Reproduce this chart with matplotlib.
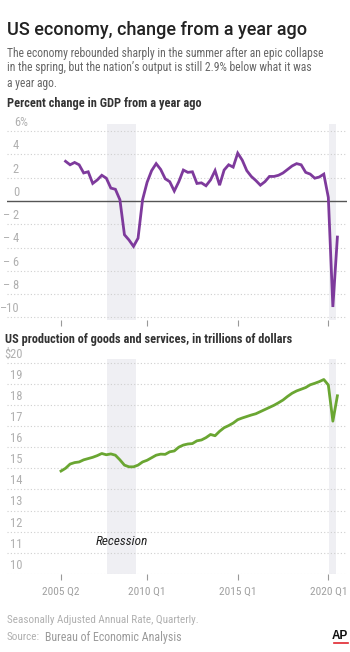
import matplotlib
matplotlib.use("Agg")
import matplotlib.pyplot as plt
from matplotlib import font_manager
from matplotlib.lines import Line2D

# pick a condensed face if one is installed
names = {f.name for f in font_manager.fontManager.ttflist}
COND = next((n for n in ["Roboto Condensed", "Liberation Sans Narrow", "Roboto"] if n in names), "DejaVu Sans")
plt.rcParams["font.family"] = [COND, "DejaVu Sans"]

# ---- data -------------------------------------------------------------------
# quarterly, 2005 Q2 .. 2020 Q3
start_year, start_q = 2005, 2
gdp_level = [14.87, 15.00, 15.20, 15.27, 15.30, 15.40, 15.46, 15.52, 15.60, 15.70,
             15.64, 15.68, 15.62, 15.40, 15.15, 15.07, 15.07, 15.15, 15.30, 15.38,
             15.50, 15.62, 15.67, 15.66, 15.78, 15.82, 16.00, 16.10, 16.15, 16.17,
             16.30, 16.34, 16.45, 16.60, 16.54, 16.75, 16.92, 17.02, 17.14, 17.30,
             17.38, 17.45, 17.52, 17.58, 17.68, 17.78, 17.88, 17.98, 18.10, 18.23,
             18.40, 18.55, 18.66, 18.74, 18.82, 18.95, 19.02, 19.10, 19.20, 18.94,
             17.23, 18.43]
# year-over-year % change, 2005 Q3 .. 2020 Q3
gdp_change = [3.4, 3.1, 3.3, 3.1, 2.4, 2.5, 1.5, 1.8, 2.2, 1.95,
              1.1, 1.0, 0.1, -2.9, -3.35, -3.9, -3.2, 0.1, 1.6, 2.6,
              3.2, 2.7, 1.9, 1.65, 0.85, 1.65, 2.65, 2.45, 2.5, 1.5,
              1.55, 1.3, 1.8, 2.6, 1.35, 2.65, 3.1, 2.9, 4.1, 3.5,
              2.6, 2.1, 1.75, 1.35, 1.65, 2.1, 2.1, 2.2, 2.4, 2.7,
              3.0, 3.2, 3.1, 2.45, 2.3, 1.95, 2.05, 2.3, 0.3, -9.1,
              -3.1]
recessions = [(2007.8, 2009.4), (2020.06, 2020.4)]

pct_ticks = [6, 4, 2, 0, -2, -4, -6, -8, -10]
pct_labels = ["6%", "4", "2", "0", "\u2013 2", "\u2013 4", "\u2013 6", "\u2013 8", "\u201310"]
lvl_ticks = [20, 19, 18, 17, 16, 15, 14, 13, 12, 11, 10]
lvl_labels = ["$20", "19", "18", "17", "16", "15", "14", "13", "12", "11", "10"]
x_ticks = [2005.25, 2010.0, 2015.0, 2020.0]
x_labels = ["2005 Q2", "2010 Q1", "2015 Q1", "2020 Q1"]

def qpos(i):
    q = start_q - 1 + i
    return start_year + q // 4 + (q % 4) / 4

x_level = [qpos(i) for i in range(len(gdp_level))]
x_change = [qpos(i + 1) for i in range(len(gdp_change))]

W, H = 350, 652
fig = plt.figure(figsize=(W / 100, H / 100), dpi=100)
fig.patch.set_facecolor("white")

def fy(px):
    return 1 - px / H

def fx(px):
    return px / W

GRID = "#cfcfcf"
SHADE = "#efeff3"
TICKC = "#b0b0b0"

def base_axes(rect, ylim):
    ax = fig.add_axes(rect)
    ax.set_xlim(2002.27, 2021.03)
    ax.set_ylim(*ylim)
    for s in ax.spines.values():
        s.set_visible(False)
    ax.set_yticks([])
    ax.set_xticks(x_ticks)
    ax.tick_params(axis="x", length=4, width=0.8, color="#999999", direction="out",
                   labelsize=8.2, labelcolor="#a0a0a0", pad=5)
    for a, b in recessions:
        ax.axvspan(a, b, color=SHADE, lw=0, zorder=0)
    return ax

# ---- top panel -------------------------------------------------------------
ax1 = base_axes([fx(7), fy(319.8), fx(340), 195.8 / H], (-10.2, 6.6))
ax1.set_xticklabels([])
for v, lab in zip(pct_ticks, pct_labels):
    if v == 0:
        ax1.axhline(0, color="#555555", lw=1, zorder=2)
    else:
        ax1.axhline(v, color=GRID, lw=0.8, ls=(0, (1, 2)), zorder=1)
    xa = (14.5 - 7) / 340 if lab.endswith("%") else (19 - 7) / 340
    ax1.annotate(lab, xy=(xa, v), xycoords=("axes fraction", "data"),
                 xytext=(0, 1.5), textcoords="offset points",
                 ha="left" if lab.endswith("%") else "right", va="bottom",
                 fontsize=9, color=TICKC)
ax1.plot(x_change, gdp_change, color="#7e3a9c", lw=2, zorder=3,
         solid_joinstyle="miter")

# ---- bottom panel ----------------------------------------------------------
ax2 = base_axes([fx(7), fy(574), fx(340), 215 / H], (10, 20.17))
ax2.set_xticklabels(x_labels)
for v, lab in zip(lvl_ticks, lvl_labels):
    ax2.axhline(v, color=GRID, lw=0.8, ls=(0, (1, 2)), zorder=1)
    ax2.annotate(lab, xy=((22.5 - 7) / 340, v), xycoords=("axes fraction", "data"),
                 xytext=(0, 1.5), textcoords="offset points",
                 ha="right", va="bottom", fontsize=9, color=TICKC)
ax2.plot(x_level, gdp_level, color="#6aa632", lw=2, zorder=3)
ax2.text(sum(recessions[0]) / 2, 11.55, "Recession", style="italic", fontsize=9.5,
         color="#222222", ha="center", va="center", zorder=4)

# ---- text --------------------------------------------------------------------
fig.text(fx(7), fy(30), "US economy, change from a year ago", fontsize=13,
         fontfamily=["Roboto", "DejaVu Sans"], fontweight="medium",
         color="#222222", va="center")
sub = ["The economy rebounded sharply in the summer after an epic collapse",
       "in the spring, but the nation\u2019s output is still 2.9% below what it was",
       "a year ago."]
for i, line in enumerate(sub):
    fig.text(fx(7), fy(53 + 15 * i), line, fontsize=8.4, color="#666666", va="center")
fig.text(fx(7), fy(103), "Percent change in GDP from a year ago", fontsize=8.9,
         fontweight="bold", color="#333333", va="center")
fig.text(fx(5), fy(340), "US production of goods and services, in trillions of dollars",
         fontsize=8.9, fontweight="bold", color="#333333", va="center")
fig.text(fx(7), fy(620), "Seasonally Adjusted Annual Rate, Quarterly.", fontsize=8,
         color="#b0b0b0", va="center")
fig.text(fx(7), fy(637), "Source:", fontsize=8, color="#b0b0b0", va="center")
fig.text(fx(45), fy(637), "Bureau of Economic Analysis", fontsize=8.6,
         color="#9a9a9a", va="center")
fig.text(fx(347.5), fy(636), "AP", fontsize=8.5, fontweight="bold", color="#111111",
         ha="right", va="center", fontfamily=["Liberation Sans", "DejaVu Sans"])
fig.add_artist(Line2D([fx(334), fx(348)], [fy(643), fy(643)], color="#e0262f", lw=1.2))

fig.savefig("out.png", dpi=100, facecolor="white")
